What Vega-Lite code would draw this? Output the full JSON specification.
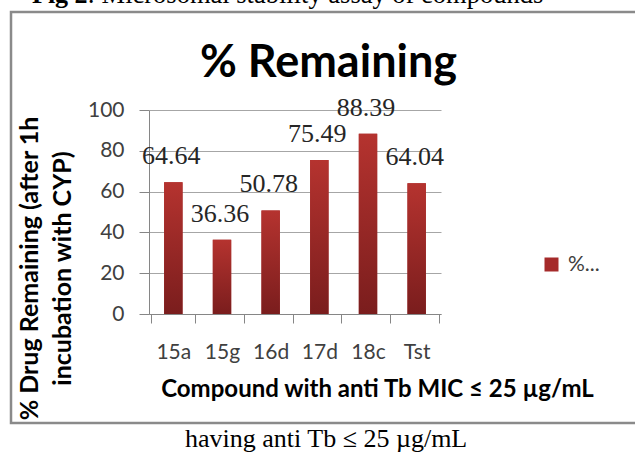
{
  "$schema": "https://vega.github.io/schema/vega-lite/v6.json",
  "width": 292,
  "height": 204,
  "autosize": {"type": "none"},
  "padding": {"left": 149, "top": 110, "right": 194, "bottom": 138},
  "background": "white",
  "datasets": {
    "compounds": [
      {"compound": "15a", "remaining": 64.64, "series": "%..."},
      {"compound": "15g", "remaining": 36.36, "series": "%..."},
      {"compound": "16d", "remaining": 50.78, "series": "%..."},
      {"compound": "17d", "remaining": 75.49, "series": "%..."},
      {"compound": "18c", "remaining": 88.39, "series": "%..."},
      {"compound": "Tst", "remaining": 64.04, "series": "%..."}
    ]
  },
  "config": {
    "view": {"stroke": null},
    "axis": {"labelFont": "Lato", "labelFontSize": 21, "labelColor": "#404040", "titleFont": "Lato", "titleFontWeight": "bold", "titleColor": "#000000"}
  },
  "layer": [
    {
      "data": {"name": "compounds"},
      "layer": [
        {
          "mark": {"type": "bar", "width": {"band": 0.42}},
          "encoding": {
            "x": {"field": "compound", "type": "nominal", "sort": null,
              "axis": {"title": "Compound with anti Tb MIC ≤ 25 µg/mL", "labelAngle": 0, "tickBand": "extent", "tickSize": 9, "tickColor": "#868686", "domainColor": "#868686", "labelPadding": 18, "grid": false, "titleFontSize": 24, "titleX": 228, "titleY": 82, "titleBaseline": "alphabetic", "titleAlign": "center"}},
            "y": {"field": "remaining", "type": "quantitative", "scale": {"domain": [0, 100], "nice": false},
              "axis": {"title": ["% Drug Remaining (after 1h", "incubation with CYP)"], "values": [0, 20, 40, 60, 80, 100], "tickSize": 10, "tickColor": "#868686", "domainColor": "#868686", "grid": true, "gridColor": "#a6a6a6", "labelPadding": 15, "titleFontSize": 25, "titleAngle": 270, "titleX": -112, "titleY": 158, "titleAlign": "center", "titleBaseline": "alphabetic", "titleLineHeight": 33}},
            "color": {"field": "series", "type": "nominal", "scale": {"range": ["#a52a2a"]},
              "legend": {"orient": "none", "legendX": 392, "legendY": 144, "title": null, "symbolType": "square", "symbolSize": 196, "symbolStrokeWidth": 0, "labelFont": "Lato", "labelFontSize": 21, "labelColor": "#404040", "labelOffset": 6}}
          }
        },
        {
          "mark": {"type": "bar", "width": {"band": 0.42}, "color": {"gradient": "linear", "x1": 0, "y1": 0, "x2": 0, "y2": 1, "stops": [{"offset": 0, "color": "#b5332f"}, {"offset": 1, "color": "#7a1d1d"}]}},
          "encoding": {
            "x": {"field": "compound", "type": "nominal", "sort": null},
            "y": {"field": "remaining", "type": "quantitative"}
          }
        },
        {
          "mark": {"type": "text", "font": "Liberation Serif", "fontSize": 26, "color": "#262626", "dy": -18, "dx": -2, "baseline": "alphabetic", "align": "center"},
          "encoding": {
            "x": {"field": "compound", "type": "nominal", "sort": null},
            "y": {"field": "remaining", "type": "quantitative"},
            "text": {"field": "remaining", "type": "quantitative", "format": ".2f"}
          }
        }
      ]
    },
    {
      "data": {"values": [{}]},
      "layer": [
        {
          "mark": {"type": "rect", "fill": "transparent", "stroke": "#8a8a8a", "strokeWidth": 2.5},
          "encoding": {
            "x": {"datum": 0, "type": "quantitative", "scale": {"domain": [0.21939, 0.68362], "nice": false, "zero": false}, "axis": null},
            "x2": {"datum": 1},
            "y": {"datum": 0, "type": "quantitative", "scale": {"domain": [0.26521, 0.76156], "nice": false, "zero": false}, "axis": null},
            "y2": {"datum": 1}
          }
        },
        {
          "mark": {"type": "text", "text": "% Remaining", "font": "Lato", "fontSize": 45, "fontWeight": "bold", "align": "center", "baseline": "alphabetic", "color": "#000000"},
          "encoding": {
            "x": {"datum": 0.50477, "type": "quantitative", "scale": {"domain": [0.21939, 0.68362], "nice": false, "zero": false}, "axis": null},
            "y": {"datum": 0.84185, "type": "quantitative", "scale": {"domain": [0.26521, 0.76156], "nice": false, "zero": false}, "axis": null}
          }
        },
        {
          "mark": {"type": "text", "text": "Fig 2", "font": "Liberation Serif", "fontSize": 26, "fontWeight": "bold", "align": "left", "baseline": "alphabetic", "color": "#000000"},
          "encoding": {
            "x": {"datum": 0.03339, "type": "quantitative", "scale": {"domain": [0.21939, 0.68362], "nice": false, "zero": false}, "axis": null},
            "y": {"datum": 1.0219, "type": "quantitative", "scale": {"domain": [0.26521, 0.76156], "nice": false, "zero": false}, "axis": null}
          }
        },
        {
          "mark": {"type": "text", "text": ": Microsomal stability assay of compounds", "font": "Liberation Serif", "fontSize": 26.5, "align": "left", "baseline": "alphabetic", "color": "#000000"},
          "encoding": {
            "x": {"datum": 0.1218, "type": "quantitative", "scale": {"domain": [0.21939, 0.68362], "nice": false, "zero": false}, "axis": null},
            "y": {"datum": 1.0219, "type": "quantitative", "scale": {"domain": [0.26521, 0.76156], "nice": false, "zero": false}, "axis": null}
          }
        },
        {
          "mark": {"type": "text", "text": "having anti Tb ≤ 25 µg/mL", "font": "Liberation Serif", "fontSize": 26, "align": "left", "baseline": "alphabetic", "color": "#000000"},
          "encoding": {
            "x": {"datum": 0.27663, "type": "quantitative", "scale": {"domain": [0.21939, 0.68362], "nice": false, "zero": false}, "axis": null},
            "y": {"datum": -0.05766, "type": "quantitative", "scale": {"domain": [0.26521, 0.76156], "nice": false, "zero": false}, "axis": null}
          }
        }
      ]
    }
  ],
  "resolve": {"scale": {"x": "independent", "y": "independent", "color": "independent"}, "axis": {"x": "independent", "y": "independent"}}
}
